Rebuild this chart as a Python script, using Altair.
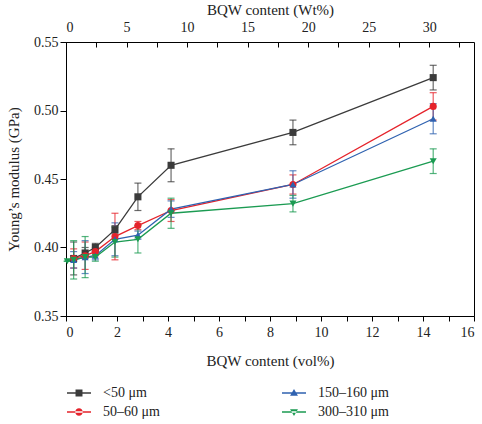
import altair as alt
import pandas as pd

series_names = ["<50 μm", "50–60 μm", "150–160 μm", "300–310 μm"]
colors = ["#3b3b3b", "#e5232b", "#2f62b0", "#1b9b52"]
shapes = ["square", "circle", "triangle-up", "triangle-down"]

x_common = [0.3, 0.75, 1.15, 1.92, 2.82, 4.12, 8.9, 14.4]
x_green = [0.05, 0.3, 0.75, 1.15, 1.92, 2.82, 4.12, 8.9, 14.4]

black_y = [0.392, 0.396, 0.400, 0.413, 0.437, 0.460, 0.484, 0.524]
black_err = [0.012, 0.004, 0.003, 0.003, 0.010, 0.012, 0.009, 0.009]
red_y = [0.392, 0.394, 0.397, 0.408, 0.416, 0.427, 0.446, 0.503]
red_err = [0.007, 0.010, 0.003, 0.017, 0.003, 0.008, 0.007, 0.010]
blue_y = [0.391, 0.393, 0.394, 0.406, 0.409, 0.428, 0.446, 0.494]
blue_err = [0.006, 0.012, 0.003, 0.012, 0.003, 0.006, 0.010, 0.011]
green_y = [0.390, 0.391, 0.393, 0.393, 0.404, 0.406, 0.425, 0.432, 0.463]
green_err = [0.0, 0.014, 0.015, 0.003, 0.011, 0.010, 0.011, 0.006, 0.009]

x_ticks = [float(v) for v in range(0, 17)]
y_ticks = [0.35, 0.375, 0.40, 0.425, 0.45, 0.475, 0.50, 0.525, 0.55]
wt_ticks = [0, 2.5, 5, 7.5, 10, 12.5, 15, 17.5, 20, 22.5, 25, 27.5, 30, 32.5]
wt_max = 33.7

rows = []
for name, xs, ys, es in [
    (series_names[0], x_common, black_y, black_err),
    (series_names[1], x_common, red_y, red_err),
    (series_names[2], x_common, blue_y, blue_err),
    (series_names[3], x_green, green_y, green_err),
]:
    for xv, yv, ev in zip(xs, ys, es):
        rows.append({"series": name, "vol": xv, "E": yv, "lo": yv - ev, "hi": yv + ev})
df = pd.DataFrame(rows)

FONT = "Liberation Serif"
legend_order = [series_names[0], series_names[2], series_names[1], series_names[3]]
legend_colors = [colors[0], colors[2], colors[1], colors[3]]
LINE = "M-2,-0.12H2V0.12H-2Z"
legend_paths = [
    LINE + "M-0.58,-0.58H0.58V0.58H-0.58Z",
    LINE + "M0,-0.66L0.66,0.46H-0.66Z",
    LINE + "M-0.62,0A0.62,0.62 0 1,0 0.62,0A0.62,0.62 0 1,0 -0.62,0Z",
    LINE + "M0,0.66L0.66,-0.46H-0.66Z",
]

xscale = alt.Scale(domain=[0, 16], nice=False, zero=False)
yscale = alt.Scale(domain=[0.35, 0.55], nice=False, zero=False)
cscale = alt.Scale(domain=legend_order, range=legend_colors)

base = alt.Chart(df)

x_axis = alt.Axis(
    values=x_ticks,
    labelExpr="datum.value % 2 === 0 ? datum.label : ''",
    title="BQW content (vol%)",
    tickSize=5,
    labelPadding=4,
    titlePadding=14,
    grid=False,
)
y_axis = alt.Axis(
    values=y_ticks,
    format=".2f",
    labelExpr="round(datum.value*1000) % 50 === 0 ? datum.label : ''",
    title="Young’s modulus (GPa)",
    tickSize={"condition": {"test": "round(datum.value*1000) % 50 === 0", "value": 6}, "value": 4},
    grid=False,
    titlePadding=12,
)

errs = base.mark_errorbar(ticks=alt.MarkConfig(size=7), opacity=0.75, thickness=1.2).encode(
    x=alt.X("vol:Q", scale=xscale, axis=x_axis),
    y=alt.Y("lo:Q", scale=yscale, axis=y_axis),
    y2="hi:Q",
    color=alt.Color("series:N", scale=cscale, legend=None),
)

lines = base.mark_line(strokeWidth=1.3).encode(
    x=alt.X("vol:Q", scale=xscale, axis=None),
    y=alt.Y("E:Q", scale=yscale),
    color=alt.Color("series:N", scale=cscale, legend=None),
    detail="series:N",
)

point_layers = []
for name, shp in zip(series_names, shapes):
    point_layers.append(
        base.transform_filter(alt.datum.series == name)
        .mark_point(filled=True, size=50, opacity=1, shape=shp)
        .encode(
            x=alt.X("vol:Q", scale=xscale, axis=None),
            y=alt.Y("E:Q", scale=yscale),
            color=alt.Color("series:N", scale=cscale, legend=None),
        )
    )

leg = alt.Legend(
    title=None,
    orient="none",
    legendX=6,
    legendY=344,
    columns=2,
    direction="horizontal",
    columnPadding=122,
    rowPadding=5,
    symbolSize=144,
    symbolStrokeWidth=0,
    symbolOpacity=1,
    labelFont=FONT,
    labelFontSize=14,
    labelColor="#222",
    labelOffset=17,
)
legend_layer = base.mark_point(filled=True, opacity=0).encode(
    x=alt.X("vol:Q", scale=xscale, axis=None),
    y=alt.Y("E:Q", scale=yscale),
    color=alt.Color("series:N", scale=cscale, legend=leg),
    shape=alt.Shape("series:N", scale=alt.Scale(domain=legend_order, range=legend_paths), legend=leg),
)

wt_df = pd.DataFrame({"wt": [0.0, wt_max]})
top = alt.Chart(wt_df).mark_point(opacity=0).encode(
    x=alt.X(
        "wt:Q",
        scale=alt.Scale(domain=[0, wt_max], nice=False, zero=False),
        axis=alt.Axis(
            orient="top",
            values=wt_ticks,
            labelExpr="datum.value % 5 === 0 ? datum.label : ''",
            title="BQW content (Wt%)",
            tickSize=5,
            offset=-5,
            domain=False,
            labelPadding=8,
            titlePadding=3,
            grid=False,
        ),
    ),
)

chart = (
    alt.layer(errs, lines, *point_layers, legend_layer, top)
    .resolve_scale(x="independent")
    .resolve_legend(color="independent", shape="independent")
    .properties(
        width=408,
        height=274,
        autosize=alt.AutoSizeParams(type="none"),
        padding={"left": 66, "top": 42, "right": 8, "bottom": 108},
        background="white",
    )
    .configure_view(stroke="black", strokeWidth=1)
    .configure_axis(
        labelFont=FONT,
        titleFont=FONT,
        labelFontSize=14,
        titleFontSize=15,
        titleFontWeight="normal",
        labelColor="#222",
        titleColor="#222",
        domainColor="black",
        tickColor="black",
    )
)

chart.save("out.html", embed_options={"renderer": "svg", "actions": False})
